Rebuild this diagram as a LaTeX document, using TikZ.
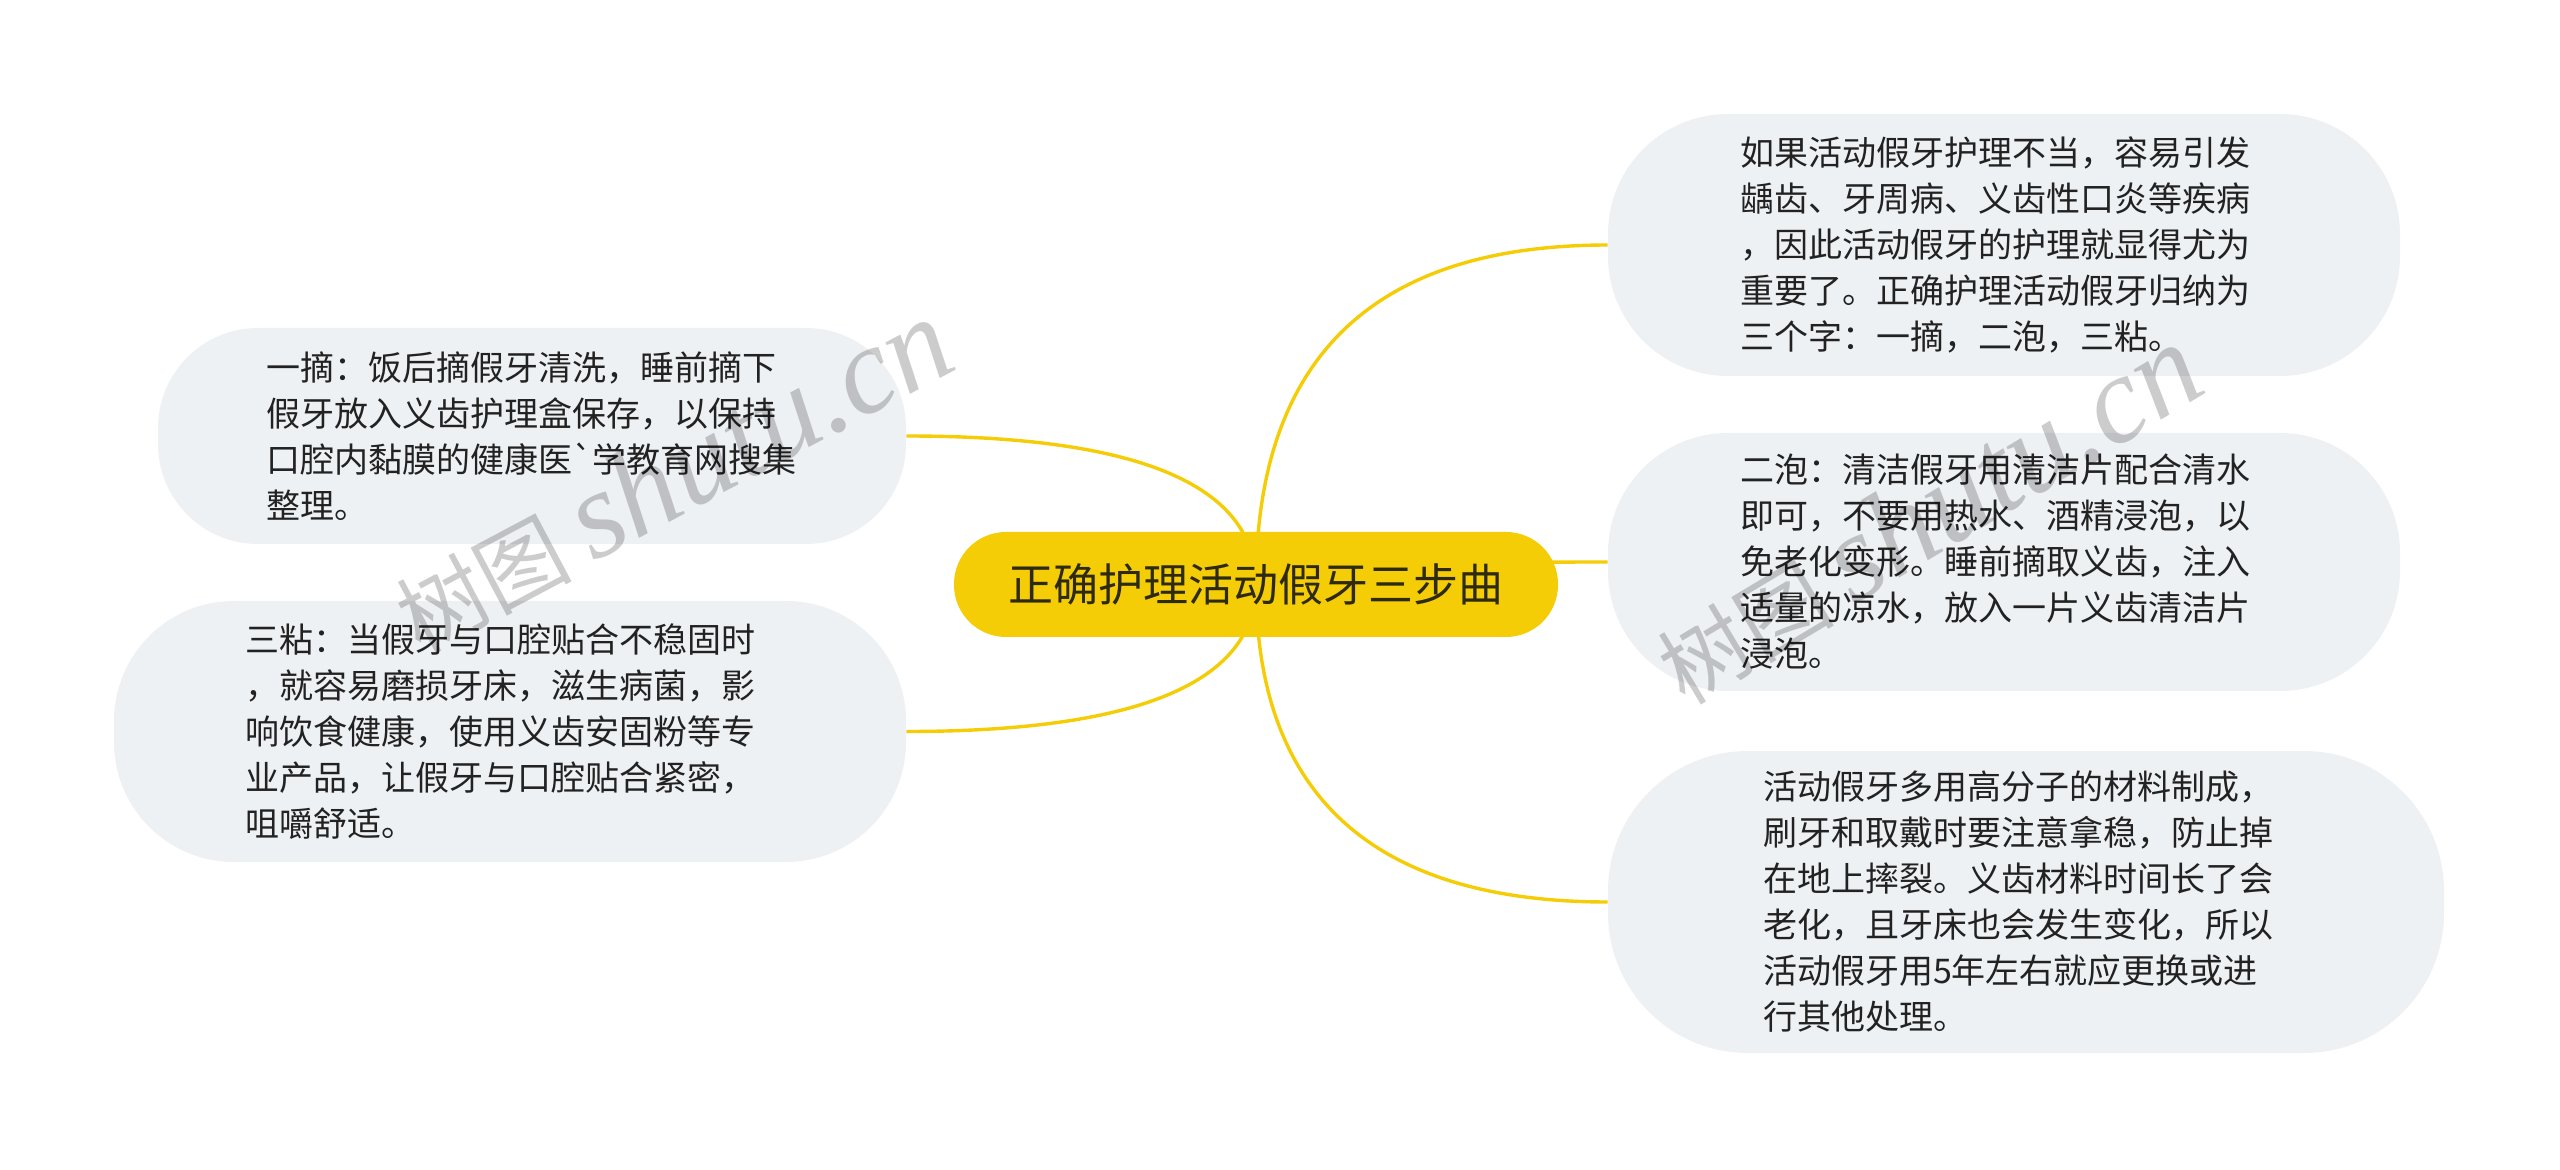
\documentclass[tikz,border=0pt]{standalone}
\usepackage{fontspec}
\newfontfamily\cjk{Noto Sans CJK SC}[Ligatures=TeXOff]
\newfontfamily\wmlat{Liberation Serif}
\usetikzlibrary{backgrounds,calc}
\definecolor{rootyellow}{HTML}{F5CD07}
\definecolor{leafgrey}{HTML}{EEF1F4}
\definecolor{leaftext}{HTML}{222222}
\definecolor{roottext}{HTML}{2E2A10}
\begin{document}
\begin{tikzpicture}[x=0.5pt,y=-0.5pt,
  leaf/.style={fill=leafgrey, rounded corners=#1, align=left, inner ysep=0pt,
    font=\cjk\fontsize{17pt}{23pt}\selectfont, text=leaftext},
  rootbox/.style={fill=rootyellow, rounded corners=26pt, minimum width=302pt,
    minimum height=52.5pt, inner sep=0pt, font=\cjk\fontsize{22.5pt}{26pt}\selectfont, text=roottext},
  conn/.style={draw=rootyellow, line width=1.7pt},
  wm/.style={text=black, text opacity=0.2, inner sep=0pt}]
\useasboundingbox (0,0) rectangle (2560,1170);

\node[rootbox] (root) at (1256,584.5) {正确护理活动假牙三步曲};

\node[leaf=50pt, minimum width=374pt, minimum height=108pt, inner xsep=54pt, text width=266pt]
  (n1) at (532,436) {一摘：饭后摘假牙清洗，睡前摘下\\假牙放入义齿护理盒保存，以保持\\口腔内黏膜的健康医`学教育网搜集\\整理。};

\node[leaf=60pt, minimum width=396pt, minimum height=130.5pt, inner xsep=65.5pt, text width=265pt]
  (n2) at (510,731.5) {三粘：当假牙与口腔贴合不稳固时\\，就容易磨损牙床，滋生病菌，影\\响饮食健康，使用义齿安固粉等专\\业产品，让假牙与口腔贴合紧密，\\咀嚼舒适。};

\node[leaf=60pt, minimum width=396pt, minimum height=131pt, inner xsep=66pt, text width=264pt]
  (n3) at (2004,245) {如果活动假牙护理不当，容易引发\\龋齿、牙周病、义齿性口炎等疾病\\，因此活动假牙的护理就显得尤为\\重要了。正确护理活动假牙归纳为\\三个字：一摘，二泡，三粘。};

\node[leaf=60pt, minimum width=396pt, minimum height=129pt, inner xsep=66pt, text width=264pt]
  (n4) at (2004,562) {二泡：清洁假牙用清洁片配合清水\\即可，不要用热水、酒精浸泡，以\\免老化变形。睡前摘取义齿，注入\\适量的凉水，放入一片义齿清洁片\\浸泡。};

\node[leaf=70pt, minimum width=418pt, minimum height=151pt, inner xsep=77.5pt, text width=263pt]
  (n5) at (2026,902) {活动假牙多用高分子的材料制成，\\刷牙和取戴时要注意拿稳，防止掉\\在地上摔裂。义齿材料时间长了会\\老化，且牙床也会发生变化，所以\\活动假牙用5年左右就应更换或进\\行其他处理。};

\begin{scope}[on background layer]
  \fill[white] (0,0) rectangle (2560,1170);
  \draw[conn] (root.center) .. controls +(0,-99) and +(234,0) .. (n1.east);
  \draw[conn] (root.center) .. controls +(0,97) and +(234,0) .. (n2.east);
  \draw[conn] (root.center) .. controls +(0,-227) and +(-234,0) .. (n3.west);
  \draw[conn] (root.center) .. controls +(0,-15) and +(-234,0) .. (n4.west);
  \draw[conn] (root.center) .. controls +(0,211) and +(-234,0) .. (n5.west);
\end{scope}

\node[wm, rotate=28] (wm1) at (672,476)
  {{\cjk\fontsize{44pt}{44pt}\selectfont 树图}\hspace{10pt}{\wmlat\itshape\fontsize{62pt}{62pt}\selectfont shutu.cn}};
\node[wm, rotate=31] (wm2) at (1928,515)
  {{\cjk\fontsize{44pt}{44pt}\selectfont 树图}\hspace{10pt}{\wmlat\itshape\fontsize{62pt}{62pt}\selectfont shutu.cn}};
\end{tikzpicture}
\end{document}
